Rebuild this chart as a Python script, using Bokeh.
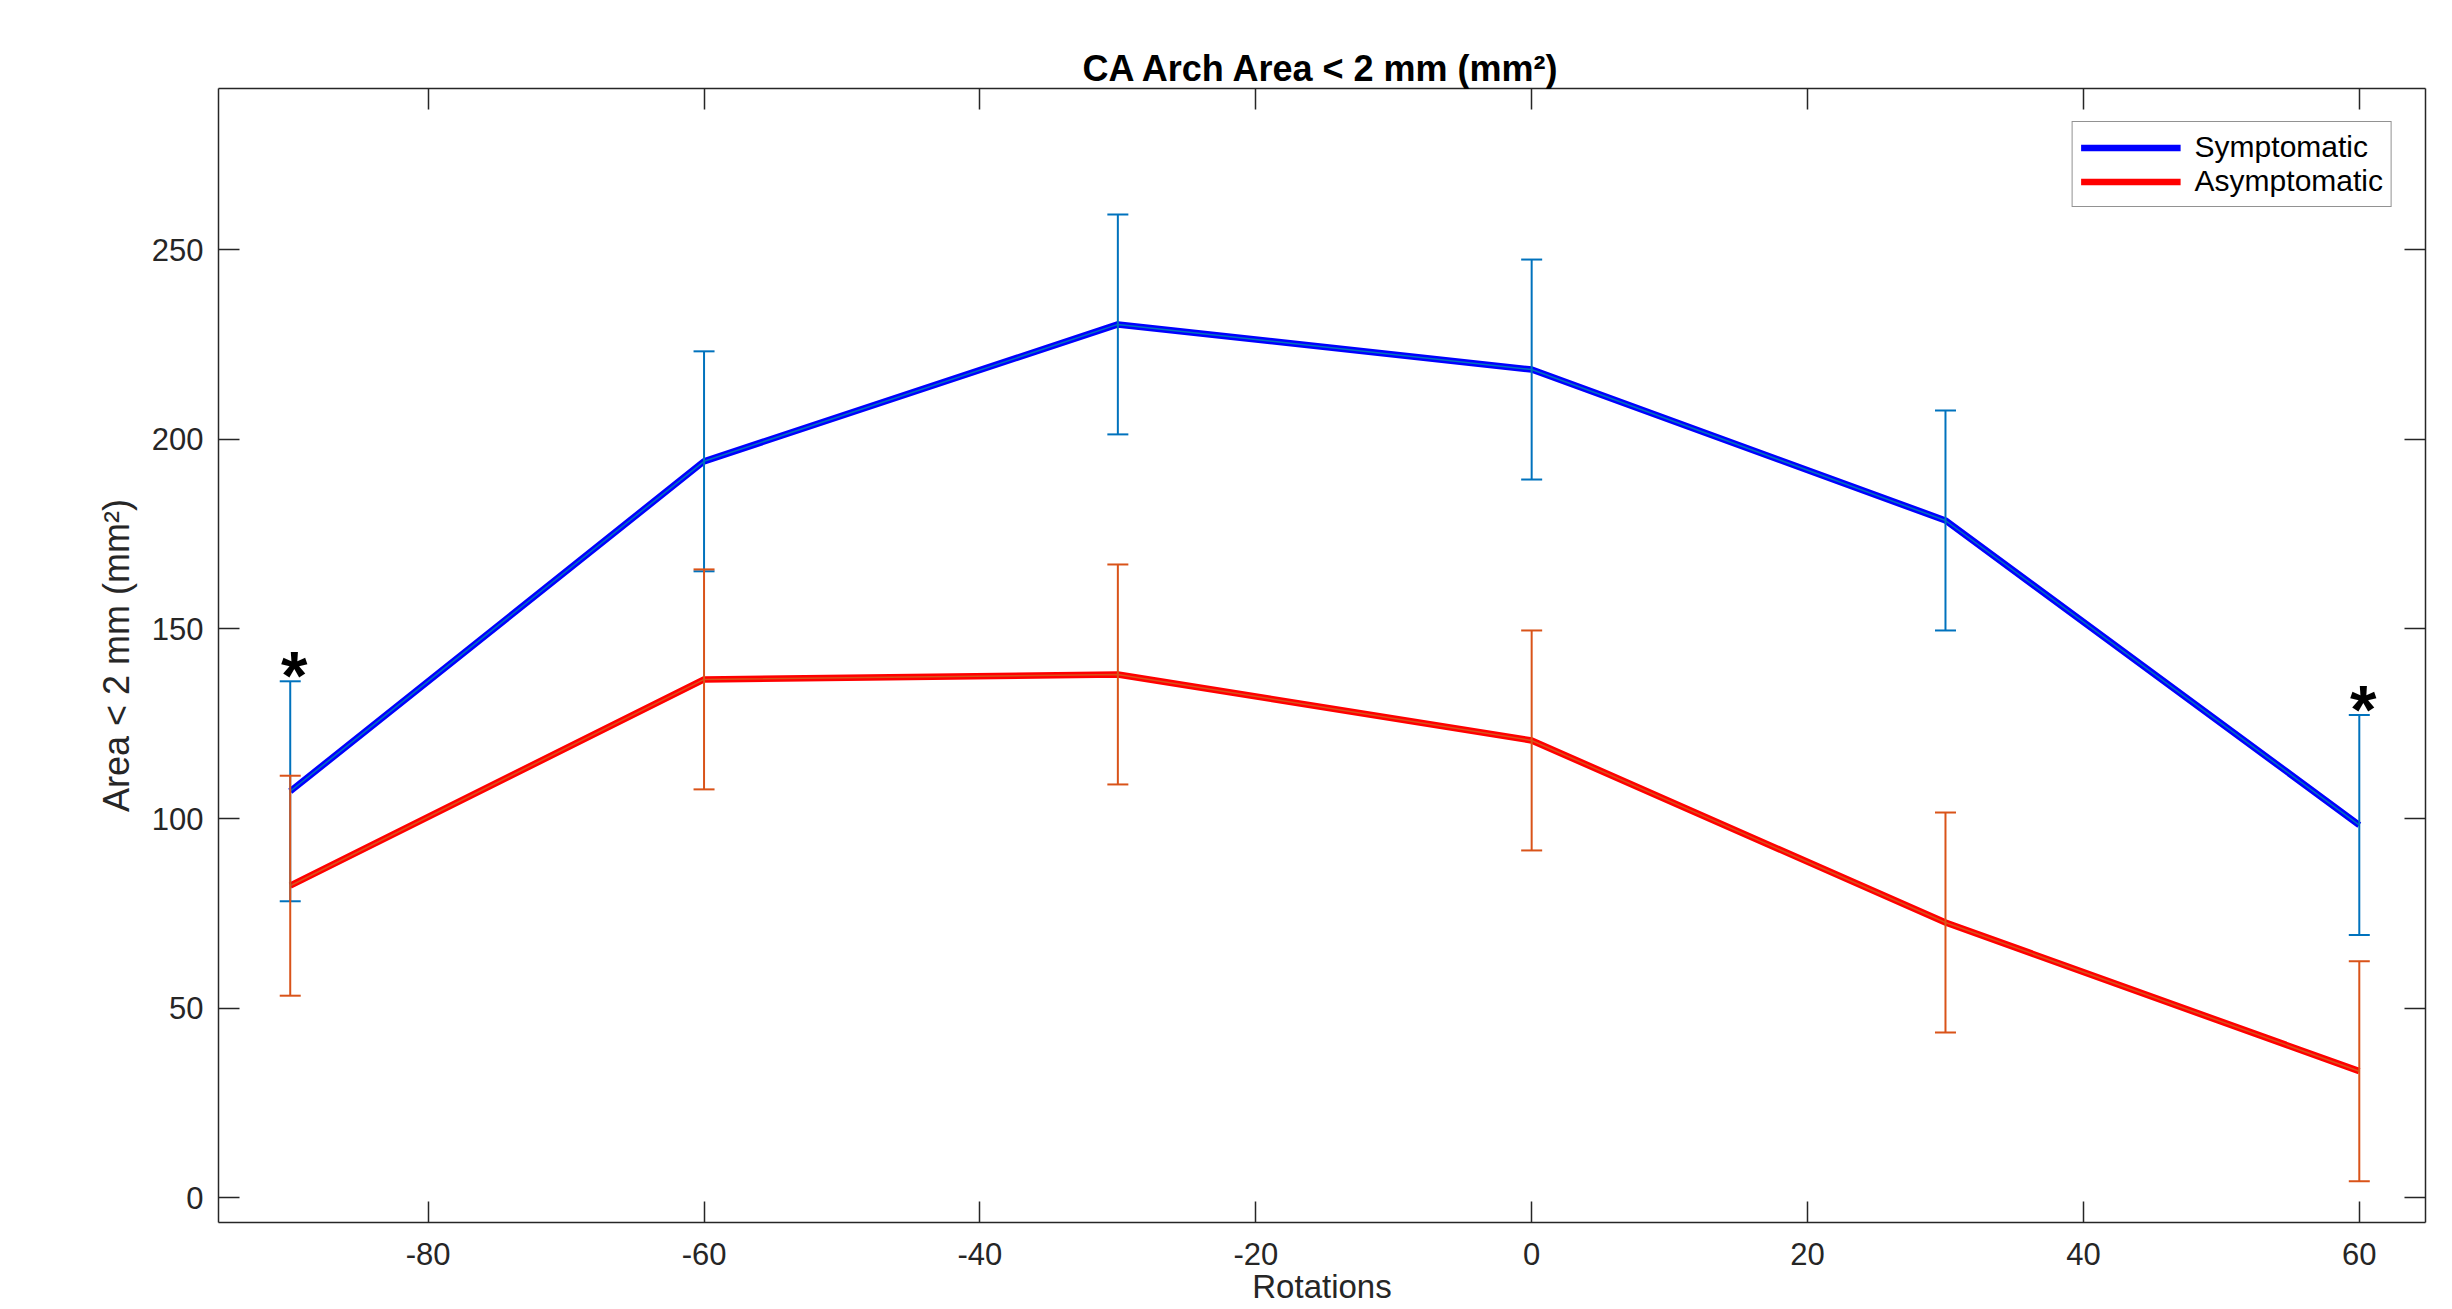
from bokeh.plotting import figure
from bokeh.models import (Range1d, LinearAxis, FixedTicker, Whisker, TeeHead,
                          ColumnDataSource, Legend, LegendItem, CustomLabelingPolicy)
from bokeh.embed import file_html
from bokeh.resources import INLINE

# ---- data ----
rotations = [-90, -60, -30, 0, 30, 60]
symptomatic = [107.2, 194.2, 230.3, 218.4, 178.6, 98.3]
symptomatic_err = [29.0, 29.0, 29.0, 29.0, 29.0, 29.0]
asymptomatic = [82.3, 136.7, 138.0, 120.6, 72.6, 33.4]
asymptomatic_err = [29.0, 29.0, 29.0, 29.0, 29.0, 29.0]
significant_idx = [0, 5]          # points marked with "*"
x_ticks = [-80, -60, -40, -20, 0, 20, 40, 60]
y_ticks = [0, 50, 100, 150, 200, 250]
x_limits = (-95.2, 64.8)
y_limits = (-6.5, 292.5)

title_text = "CA Arch Area < 2 mm (mm\u00b2)"
x_label = "Rotations"
y_label = "Area < 2 mm (mm\u00b2)"

FONT = "Liberation Sans"
AX = "#262626"
BLUE, RED = "#0000ff", "#ff0000"
EB_BLUE, EB_RED = "#0072BD", "#D95319"

p = figure(width=2452, height=1309, output_backend="svg", toolbar_location=None,
           x_range=Range1d(*x_limits), y_range=Range1d(*y_limits),
           min_border_left=218, min_border_right=27, min_border_top=88,
           min_border_bottom=87, background_fill_color="white",
           border_fill_color="white", outline_line_color=None)
p.grid.visible = False

# title
p.title.text = title_text
p.title.align = "center"
p.title.text_font = FONT
p.title.text_font_size = "36px"
p.title.text_font_style = "bold"
p.title.text_color = "black"
p.title.standoff = 0
p.title.offset = 0

NO_LABELS = """
const all = Array.from(indices)
for (const i of all) { indices.unset(i) }
return indices
"""

def style_axis(ax, labels=True):
    ax.axis_line_color = AX
    ax.axis_line_width = 1.5
    ax.major_tick_line_color = AX
    ax.major_tick_line_width = 1.5
    ax.major_tick_in = 21
    ax.major_tick_out = 0
    ax.minor_tick_line_color = None
    ax.major_label_text_font = FONT
    ax.major_label_text_color = AX
    if labels:
        ax.major_label_text_font_size = "31px"
    else:
        ax.major_label_text_font_size = "0px"
        ax.major_label_policy = CustomLabelingPolicy(code=NO_LABELS)
        ax.major_label_standoff = 0

xa = p.xaxis[0]
xa.ticker = FixedTicker(ticks=x_ticks)
style_axis(xa)
xa.major_label_overrides = {t: str(t) for t in x_ticks}   # plain hyphen minus
xa.major_label_standoff = 20
xa.axis_label = x_label
xa.axis_label_text_font = FONT
xa.axis_label_text_font_size = "33px"
xa.axis_label_text_font_style = "normal"
xa.axis_label_text_color = AX
xa.axis_label_standoff = 0

ya = p.yaxis[0]
ya.ticker = FixedTicker(ticks=y_ticks)
style_axis(ya)
ya.major_label_standoff = 15
ya.axis_label = y_label
ya.axis_label_text_font = FONT
ya.axis_label_text_font_size = "36px"
ya.axis_label_text_font_style = "normal"
ya.axis_label_text_color = AX
ya.axis_label_standoff = 12

top = LinearAxis(ticker=FixedTicker(ticks=x_ticks))
style_axis(top, labels=False)
p.add_layout(top, "above")
right = LinearAxis(ticker=FixedTicker(ticks=y_ticks))
style_axis(right, labels=False)
p.add_layout(right, "right")

# sources
s_src = ColumnDataSource(dict(x=rotations, y=symptomatic,
                              upper=[m + e for m, e in zip(symptomatic, symptomatic_err)],
                              lower=[m - e for m, e in zip(symptomatic, symptomatic_err)]))
a_src = ColumnDataSource(dict(x=rotations, y=asymptomatic,
                              upper=[m + e for m, e in zip(asymptomatic, asymptomatic_err)],
                              lower=[m - e for m, e in zip(asymptomatic, asymptomatic_err)]))

# thick mean lines
r_s = p.line("x", "y", source=s_src, line_color=BLUE, line_width=6.5)
r_a = p.line("x", "y", source=a_src, line_color=RED, line_width=6.5)

# error bars
for src, col in ((s_src, EB_BLUE), (a_src, EB_RED)):
    w = Whisker(source=src, base="x", upper="upper", lower="lower",
                dimension="height", line_color=col, line_width=2, level="glyph",
                upper_head=TeeHead(size=21, line_color=col, line_width=2),
                lower_head=TeeHead(size=21, line_color=col, line_width=2))
    p.add_layout(w)
    p.line("x", "y", source=src, line_color=col, line_width=1.5)

# significance stars
star_x = [rotations[i] for i in significant_idx]
star_y = [symptomatic[i] + symptomatic_err[i] for i in significant_idx]
p.text(x=star_x, y=star_y, text=["*"] * len(star_x), text_font_size="68px",
       text_font_style="bold", text_color="black", text_align="center",
       text_baseline="alphabetic", y_offset=-6, x_offset=4,
       text_font={"value": FONT})

legend = Legend(items=[LegendItem(label="Symptomatic", renderers=[r_s]),
                       LegendItem(label="Asymptomatic", renderers=[r_a])],
                location="top_right")
legend.margin = 33
legend.padding = 8
legend.spacing = 0
legend.glyph_width = 100
legend.glyph_height = 31
legend.label_height = 31
legend.label_standoff = 14
legend.label_text_font = FONT
legend.label_text_font_size = "30px"
legend.label_text_color = "black"
legend.border_line_color = AX
legend.border_line_width = 1.5
legend.background_fill_color = "white"
p.add_layout(legend)

open("out.html", "w").write(file_html(p, INLINE))
